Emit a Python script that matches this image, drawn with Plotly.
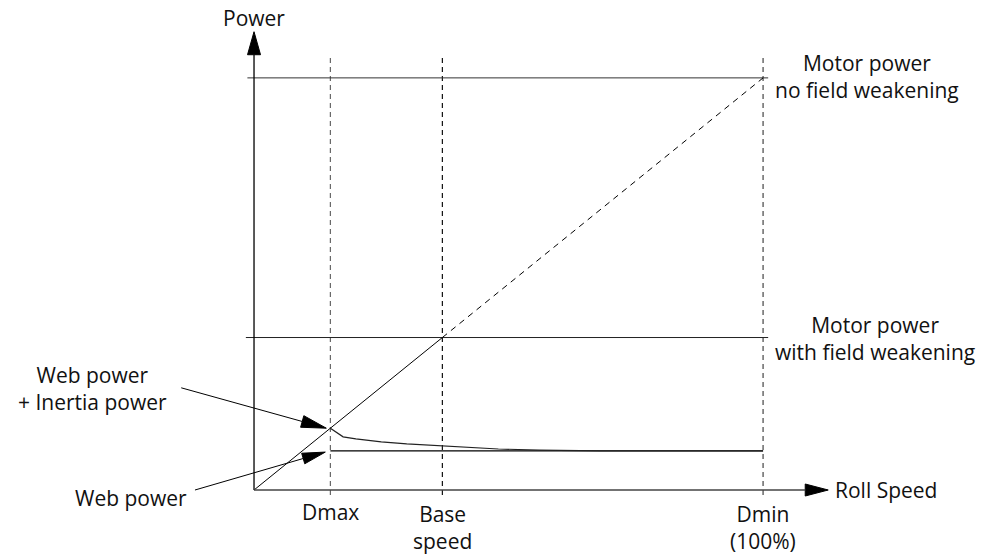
import math
import plotly.graph_objects as go

# ---- speed markers (roll speed, % of Dmin speed) ----
D_MAX = 15
BASE_SPEED = 37
D_MIN = 100

# ---- power levels (% of motor power without field weakening) ----
MOTOR_POWER_NO_FW = 100
MOTOR_POWER_FW = 37
WEB_POWER = 9.5

# web power + inertia power vs roll speed
web_inertia_speed = [15, 17.5, 20, 25, 30, 37, 43, 48, 56, 68, 80, 100]
web_inertia_power = [15, 12.9, 12.4, 11.7, 11.2, 10.75, 10.2, 9.95, 9.7, 9.5, 9.5, 9.5]

speed_labels = ["Dmax", "Base<br>speed", "Dmin<br>(100%)"]

# ---- canvas / axis mapping ----
W, H = 984, 558
X_RANGE = [-49.9, 143.4]
Y_RANGE = [-16.5, 118.9]
SX = W / (X_RANGE[1] - X_RANGE[0])   # px per speed unit
SY = H / (Y_RANGE[1] - Y_RANGE[0])   # px per power unit

X_AXIS_END = 112.8
Y_AXIS_END = 111.2
FONT = dict(family="'Open Sans', Lato, sans-serif", size=21, color="#111111")


def arrow_head(tip, tail, length=23, width=12):
    """Filled triangle at `tip`, pointing away from `tail` (sizes in px)."""
    dx = (tip[0] - tail[0]) * SX
    dy = (tip[1] - tail[1]) * SY
    n = math.hypot(dx, dy)
    ux, uy = dx / n, dy / n
    px, py = -uy, ux
    bx = tip[0] * SX - ux * length
    by = tip[1] * SY - uy * length
    pts = [
        (tip[0] * SX, tip[1] * SY),
        (bx + px * width / 2, by + py * width / 2),
        (bx - px * width / 2, by - py * width / 2),
        (tip[0] * SX, tip[1] * SY),
    ]
    return [p[0] / SX for p in pts], [p[1] / SY for p in pts], (bx / SX, by / SY)


fig = go.Figure()


def line(x, y, color="#000000", width=1, dash=None):
    fig.add_trace(go.Scatter(x=x, y=y, mode="lines", hoverinfo="skip",
                             line=dict(color=color, width=width, dash=dash)))


def head(tip, tail, length=23, width=12):
    hx, hy, base = arrow_head(tip, tail, length, width)
    fig.add_trace(go.Scatter(x=hx, y=hy, mode="lines", fill="toself",
                             fillcolor="#000000", hoverinfo="skip",
                             line=dict(color="#000000", width=1)))
    return base


# vertical speed markers
dash_top = 105.6
for s, col in zip([D_MAX, BASE_SPEED, D_MIN], ["#666666", "#111111", "#444444"]):
    line([s, s], [-1.2, dash_top], color=col, width=1.2, dash="5px,4px")

# motor power limits
line([-1.3, D_MIN + 1], [MOTOR_POWER_NO_FW] * 2, color="#333333")
line([-1.6, D_MIN + 1], [MOTOR_POWER_FW] * 2, color="#222222")

# constant-torque power ramp: solid to base speed, dashed beyond
line([0, BASE_SPEED], [0, MOTOR_POWER_FW])
line([BASE_SPEED, D_MIN], [MOTOR_POWER_FW, MOTOR_POWER_NO_FW], dash="6px,5px")

# web power and web + inertia power
line([D_MAX, D_MIN], [WEB_POWER, WEB_POWER], width=1.3)
line(web_inertia_speed, web_inertia_power, color="#222222", width=1.2)

# axes with arrow heads
yb = head((0, Y_AXIS_END), (0, 0), length=23, width=13)
line([0, 0], [0, yb[1]], width=1.3)
xb = head((X_AXIS_END, 0), (0, 0), length=23, width=12)
line([0, xb[0]], [0, 0], color="#444444", width=1.3)

# callout arrows
tail_wi = (-14.3, 24.8)
b = head((D_MAX - 0.8, web_inertia_power[0]), tail_wi, length=25, width=12)
line([tail_wi[0], b[0]], [tail_wi[1], b[1]])
tail_w = (-11.6, 0)
b = head((D_MAX - 1.0, WEB_POWER - 0.3), tail_w, length=23, width=11)
line([tail_w[0], b[0]], [tail_w[1], b[1]])

# text labels
labels = [
    ("Power", 0, 114.6, "center"),
    ("Roll Speed", 113.75, 0, "left"),
    (speed_labels[0], D_MAX, -5.3, "center"),
    (speed_labels[1], BASE_SPEED, -9.0, "center"),
    (speed_labels[2], D_MIN, -9.2, "center"),
    ("Motor power<br>no field weakening", 120.4, 100.4, "center"),
    ("Motor power<br>with field weakening", 122.0, 36.8, "center"),
    ("Web power<br>+ Inertia power", -31.8, 24.6, "center"),
    ("Web power", -24.2, -1.9, "center"),
]
for text, x, y, anchor in labels:
    fig.add_annotation(x=x, y=y, xref="x", yref="y", text=text, showarrow=False,
                       xanchor=anchor, yanchor="middle", font=FONT, align="center")

fig.update_layout(
    width=W, height=H, margin=dict(l=0, r=0, t=0, b=0, pad=0),
    plot_bgcolor="white", paper_bgcolor="white", showlegend=False,
    xaxis=dict(range=X_RANGE, visible=False, fixedrange=True),
    yaxis=dict(range=Y_RANGE, visible=False, fixedrange=True),
)

fig.write_html("out.html", config={"displayModeBar": False})
